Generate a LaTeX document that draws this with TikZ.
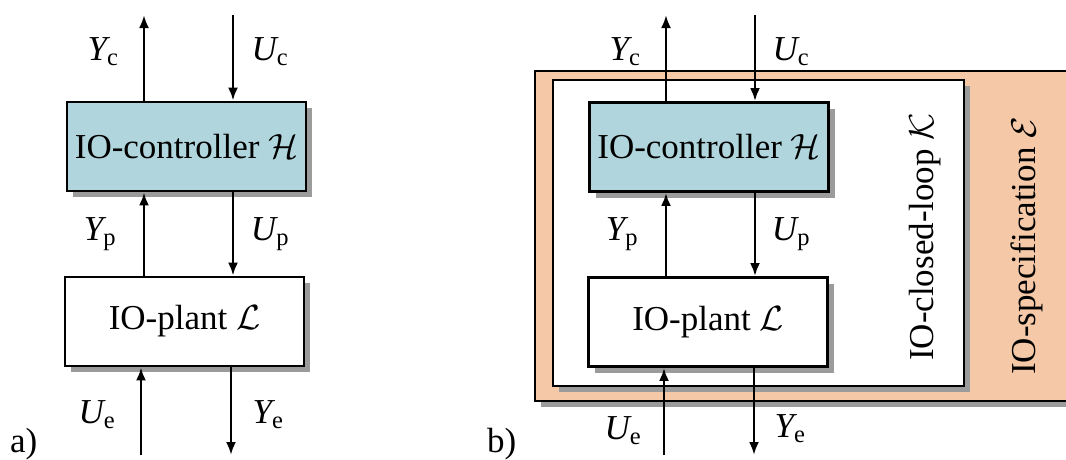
\RequirePackage{fix-cm}
\documentclass[tikz,border=0pt]{standalone}
\usepackage{amsmath,amssymb}
\usepackage{fontspec}
\setmainfont{Liberation Serif}
\usepackage{tikz}
\usetikzlibrary{arrows.meta,shadows}
\usepackage{xcolor}
\definecolor{ctrlblue}{RGB}{176,213,220}
\definecolor{specpeach}{RGB}{245,201,167}
\definecolor{shadowgray}{RGB}{155,155,155}

\begin{document}
\begin{tikzpicture}[x=1pt, y=-1pt, font=\fontsize{35}{42}\selectfont,
  blockbox/.style={draw, line width=2.8pt, inner sep=0pt,
    drop shadow={shadow xshift=6pt, shadow yshift=-6pt, fill=shadowgray, opacity=1}},
  sysbox/.style={blockbox, minimum width=239pt, minimum height=89pt},
  sigarrow/.style={line width=2.6pt, -{Latex[length=13pt,width=10pt]}},
  siglabel/.style={inner sep=0pt, anchor=base}]
\useasboundingbox (0,0) rectangle (1066,459);
\node[sysbox, fill=ctrlblue] (ctrlA) at (186.5,146.5) {IO-controller $\mathcal{H}$};
\node[sysbox, fill=white] (plantA) at (184.5,321.5) {IO-plant $\mathcal{L}$};
\coordinate (ycA) at (144,15);
\coordinate (ucA) at (233,15);
\coordinate (ueA) at (141,455);
\coordinate (yeA) at (231,455);
\draw[sigarrow] (ctrlA.north -| ycA) -- (ycA);
\draw[sigarrow] (ucA) -- (ctrlA.north -| ucA);
\draw[sigarrow] (plantA.north -| ycA) -- (ctrlA.south -| ycA);
\draw[sigarrow] (ctrlA.south -| ucA) -- (plantA.north -| ucA);
\draw[sigarrow] (ueA) -- (plantA.south -| ueA);
\draw[sigarrow] (plantA.south -| yeA) -- (yeA);
\node[siglabel] (ycLabA) at (103,60) {$\mathit{Y}_{\mathrm{c}}$};
\node[siglabel] (ucLabA) at (270,60) {$\mathit{U}_{\mathrm{c}}$};
\node[siglabel] (ypLabA) at (100,240) {$\mathit{Y}_{\mathrm{p}}$};
\node[siglabel] (upLabA) at (270,240) {$\mathit{U}_{\mathrm{p}}$};
\node[siglabel] (ueLabA) at (97,423) {$\mathit{U}_{\mathrm{e}}$};
\node[siglabel] (yeLabA) at (268,423) {$\mathit{Y}_{\mathrm{e}}$};
\node[inner sep=0pt, anchor=base west] (tagA) at (10,452) {a)};
\node[blockbox, fill=specpeach, minimum width=570pt, minimum height=330pt] (spec) at (820,236) {};
\node[blockbox, fill=white, minimum width=411pt, minimum height=306pt] (loop) at (758.5,233) {};
\node[sysbox, fill=ctrlblue] (ctrlB) at (709,147) {IO-controller $\mathcal{H}$};
\node[sysbox, fill=white] (plantB) at (708,322) {IO-plant $\mathcal{L}$};
\node[rotate=90, inner sep=0pt] (loopLab) at (925,237) {IO-closed-loop $\mathcal{K}$};
\node[rotate=90, inner sep=0pt] (specLab) at (1027,246) {IO-specification $\mathcal{E}$};
\coordinate (ycB) at (666,15);
\coordinate (ucB) at (755,15);
\coordinate (ueB) at (664,455);
\coordinate (yeB) at (754,455);
\draw[sigarrow] (ctrlB.north -| ycB) -- (ycB);
\draw[sigarrow] (ucB) -- (ctrlB.north -| ucB);
\draw[sigarrow] (plantB.north -| ycB) -- (ctrlB.south -| ycB);
\draw[sigarrow] (ctrlB.south -| ucB) -- (plantB.north -| ucB);
\draw[sigarrow] (ueB) -- (plantB.south -| ueB);
\draw[sigarrow] (plantB.south -| yeB) -- (yeB);
\node[siglabel] (ycLabB) at (625,60) {$\mathit{Y}_{\mathrm{c}}$};
\node[siglabel] (ucLabB) at (791,60) {$\mathit{U}_{\mathrm{c}}$};
\node[siglabel] (ypLabB) at (622,240) {$\mathit{Y}_{\mathrm{p}}$};
\node[siglabel] (upLabB) at (791,240) {$\mathit{U}_{\mathrm{p}}$};
\node[siglabel] (ueLabB) at (623,439) {$\mathit{U}_{\mathrm{e}}$};
\node[siglabel] (yeLabB) at (790,437) {$\mathit{Y}_{\mathrm{e}}$};
\node[inner sep=0pt, anchor=base west] (tagB) at (487,452) {b)};
\end{tikzpicture}
\end{document}
